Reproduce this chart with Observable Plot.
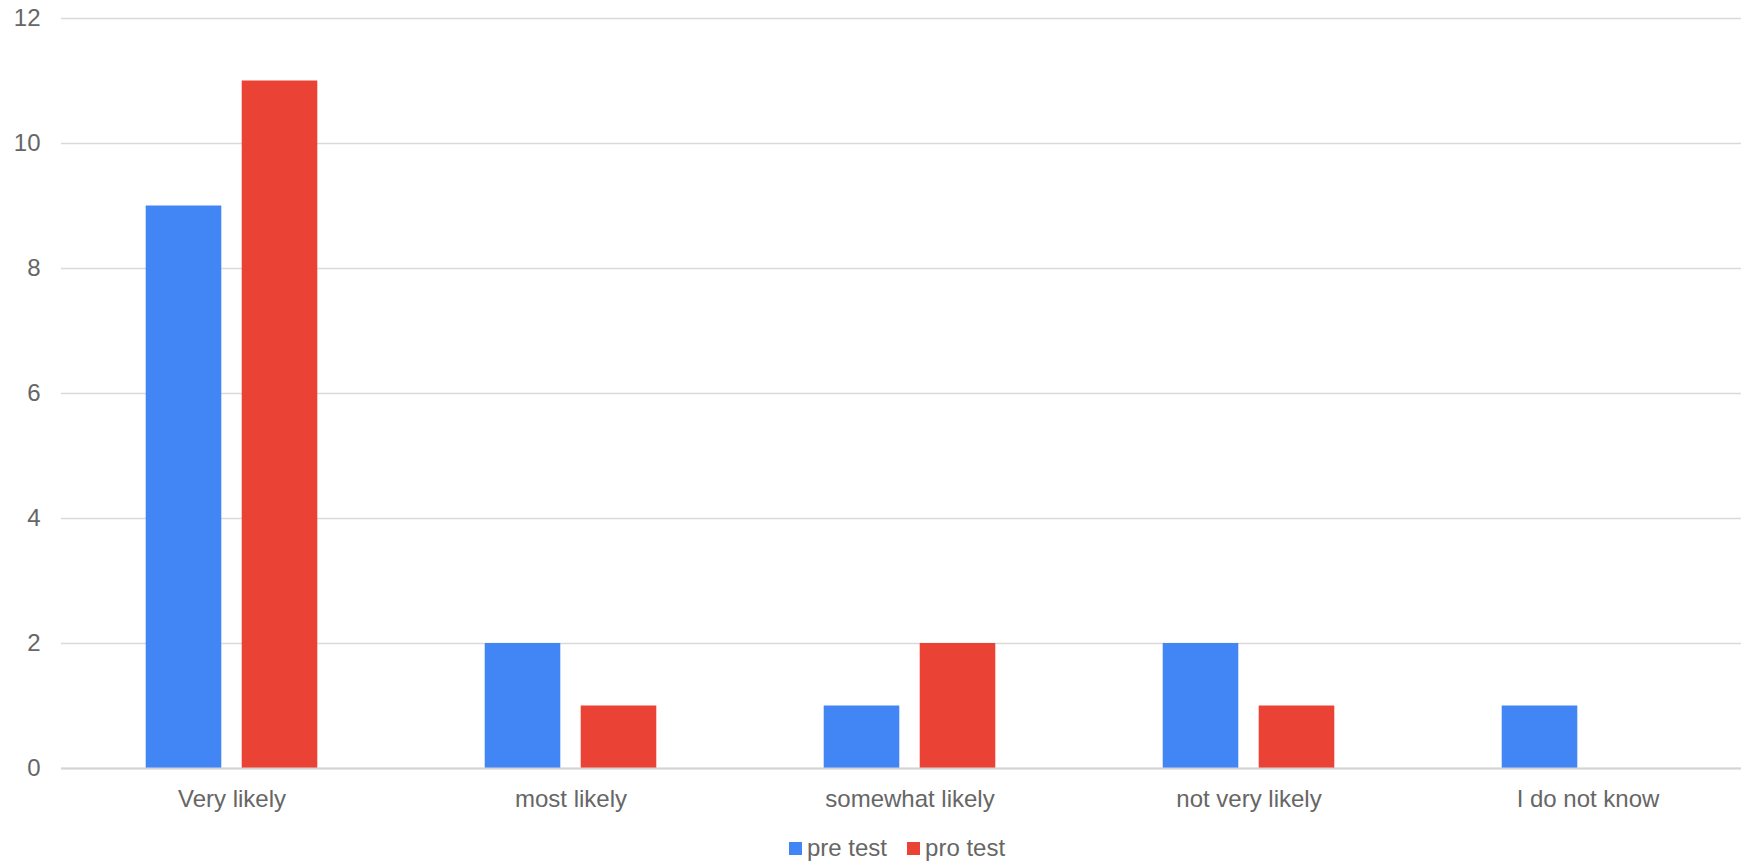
<!DOCTYPE html>
<html>
<head>
<meta charset="utf-8">
<script src="https://cdn.jsdelivr.net/npm/d3@7"></script>
<script src="https://cdn.jsdelivr.net/npm/@observablehq/plot@0.6"></script>
<style>
  html, body { margin: 0; padding: 0; background: #fff; overflow: hidden; }
  body { width: 1741px; height: 862px; position: relative; font-family: "Liberation Sans", Arial, sans-serif; }
  #chart svg { display: block; }
  #legend { position: absolute; top: 834px; left: 789px; display: flex; align-items: center; font-size: 24px; color: #666; white-space: nowrap; }
  #legend .item { display: flex; align-items: center; margin-right: 20px; }
  #legend .sw { width: 13px; height: 13px; margin-right: 5px; }
</style>
</head>
<body>
<div id="chart"></div>
<div id="legend"></div>
<script>
const categories = ["Very likely", "most likely", "somewhat likely", "not very likely", "I do not know"];
const preTest = [9, 2, 1, 2, 1];
const proTest = [11, 1, 2, 1, 0];
const seriesNames = ["pre test", "pro test"];
const seriesColors = ["#4285F4", "#EA4335"];
const yTicks = [0, 2, 4, 6, 8, 10, 12];

const W = 1741, H = 830;
const xRange = [61, 1758];
const step = (xRange[1] - xRange[0]) / categories.length;
const barW = 76, gap = 20;
const outer = (step - 2 * barW - gap) / 2;

const preData = categories.map((c, i) => ({category: c, value: preTest[i]}));
const proData = categories.map((c, i) => ({category: c, value: proTest[i]}));

const chart = Plot.plot({
  width: W,
  height: H,
  marginLeft: 61,
  marginRight: 0,
  marginTop: 18,
  marginBottom: H - 768,
  style: {fontFamily: "'Liberation Sans', Arial, sans-serif", fontSize: "24px", color: "#666", background: "#fff"},
  x: {type: "band", domain: categories, range: xRange, padding: 0},
  y: {domain: [0, 12], ticks: yTicks},
  marks: [
    Plot.gridY(yTicks, {stroke: "#d9d9d9", strokeOpacity: 1, strokeWidth: 1.6}),
    Plot.barY(preData, {x: "category", y: "value", fill: seriesColors[0], insetLeft: outer, insetRight: outer + barW + gap}),
    Plot.barY(proData, {x: "category", y: "value", fill: seriesColors[1], insetLeft: outer + barW + gap, insetRight: outer}),
    Plot.ruleY([0], {stroke: "#d4d4d4", strokeWidth: 1.8}),
    Plot.axisY({ticks: yTicks, tickSize: 0, tickPadding: 21, label: null, fill: "#666", fontSize: 24}),
    Plot.axisX({tickSize: 0, tickPadding: 21, label: null, fill: "#666", fontSize: 24})
  ]
});
document.getElementById("chart").appendChild(chart);

const legend = document.getElementById("legend");
seriesNames.forEach((name, i) => {
  const item = document.createElement("div");
  item.className = "item";
  const sw = document.createElement("div");
  sw.className = "sw";
  sw.style.background = seriesColors[i];
  const label = document.createElement("span");
  label.textContent = name;
  item.appendChild(sw);
  item.appendChild(label);
  legend.appendChild(item);
});
</script>
</body>
</html>
